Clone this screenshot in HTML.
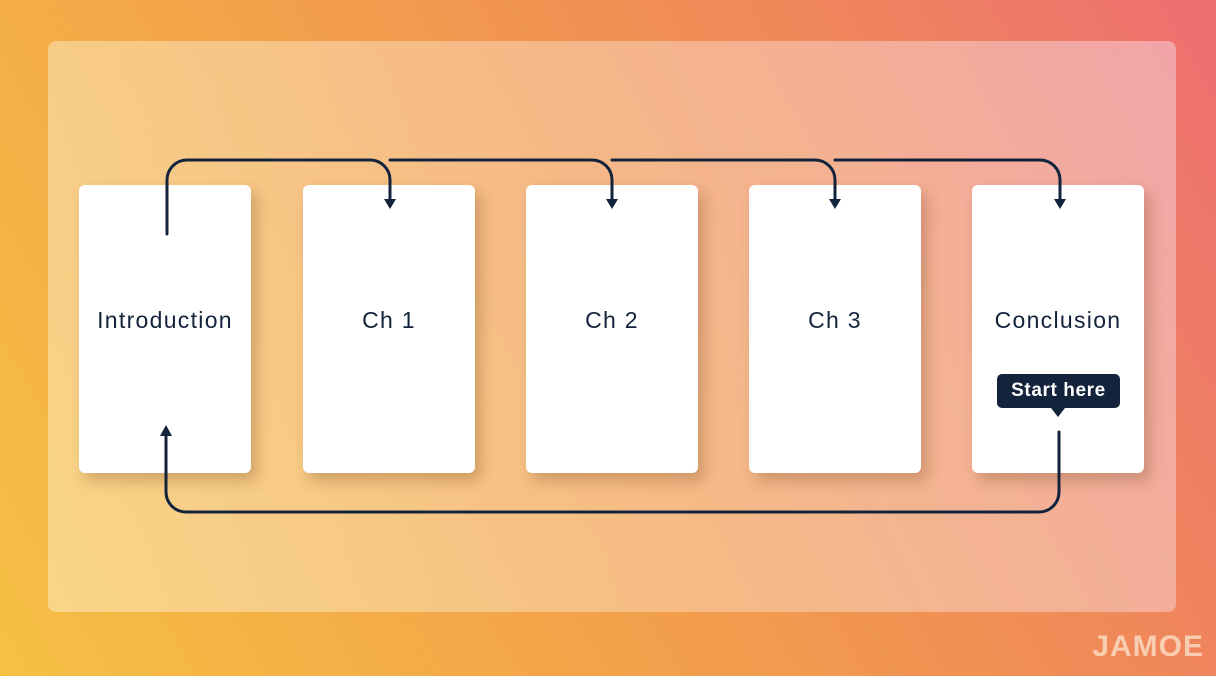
<!DOCTYPE html>
<html><head><meta charset="utf-8"><style>
html,body{margin:0;padding:0}
body{width:1216px;height:676px;position:relative;overflow:hidden;font-family:"Liberation Sans",sans-serif;
background:linear-gradient(60deg,#f6c045 0%,#f3a548 35%,#f08a58 70%,#ee6e72 100%)}
.panel{position:absolute;left:48px;top:41px;width:1128px;height:571px;border-radius:8px;
background:linear-gradient(75deg,rgba(250,235,190,.55),rgba(250,225,200,.45) 50%,rgba(245,215,225,.5))}
.card{position:absolute;top:185px;width:172px;height:288px;background:#fff;border-radius:6px;
box-shadow:6px 8px 14px rgba(120,70,30,.3);}
.card span{position:absolute;left:0;right:0;top:122px;text-align:center;font-size:23px;color:#13233b;letter-spacing:1.3px;white-space:nowrap}
.tip{position:absolute;left:997px;top:374px;width:123px;height:34px;background:#13233b;border-radius:5px;color:#fff;
font-weight:bold;font-size:19px;letter-spacing:.6px;display:flex;align-items:center;justify-content:center}
.tip:after{content:"";position:absolute;left:54px;top:34px;border:7px solid transparent;border-top:9px solid #13233b}
.logo{position:absolute;right:12px;top:630px;color:#f8cdb0;font-weight:bold;font-size:30px;letter-spacing:1px}
</style></head><body>
<div class="panel"></div>
<div class="card" style="left:79px"><span>Introduction</span></div>
<div class="card" style="left:303px"><span>Ch 1</span></div>
<div class="card" style="left:526px"><span>Ch 2</span></div>
<div class="card" style="left:749px"><span>Ch 3</span></div>
<div class="card" style="left:972px"><span>Conclusion</span></div>
<svg width="1216" height="676" style="position:absolute;left:0;top:0">
<g fill="none" stroke="#13233b" stroke-width="3" stroke-linecap="round">
<path d="M167 234 V180 A20 20 0 0 1 187 160 H370 A20 20 0 0 1 390 180 V200"/>
<path d="M390 160 H592 A20 20 0 0 1 612 180 V200"/>
<path d="M612 160 H815 A20 20 0 0 1 835 180 V200"/>
<path d="M835 160 H1040 A20 20 0 0 1 1060 180 V200"/>
<path d="M1059 432 V492 A20 20 0 0 1 1039 512 H186 A20 20 0 0 1 166 492 V434"/>
</g>
<g fill="#13233b">
<polygon points="384,199 396,199 390,209"/>
<polygon points="606,199 618,199 612,209"/>
<polygon points="829,199 841,199 835,209"/>
<polygon points="1054,199 1066,199 1060,209"/>
<polygon points="160,436 172,436 166,425"/>
</g>
</svg>
<div class="tip">Start here</div>
<div class="logo">JAMOE</div>
</body></html>
